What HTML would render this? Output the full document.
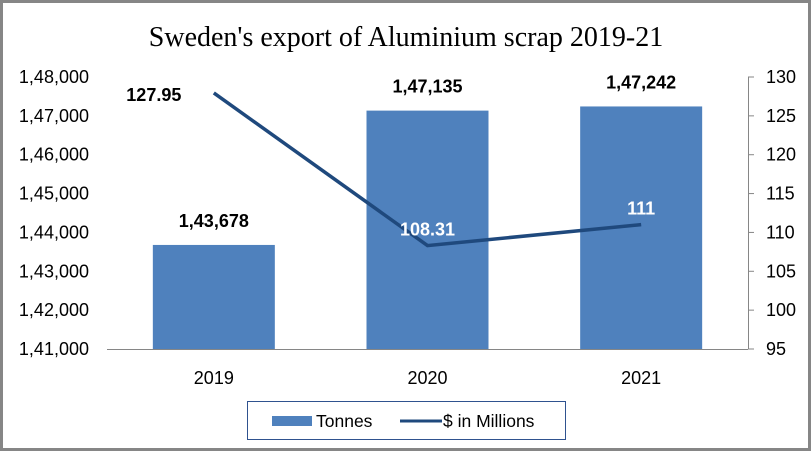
<!DOCTYPE html>
<html><head><meta charset="utf-8"><style>
html,body{margin:0;padding:0;background:#fff}
svg{display:block;font-family:"Liberation Sans",sans-serif}
</style></head><body>
<svg id="chart" width="812" height="453" viewBox="0 0 812 453">
<rect x="1.5" y="1.5" width="808" height="448" fill="#fff" stroke="#868686" stroke-width="3"/>
<text x="406" y="46" text-anchor="middle" font-family="Liberation Serif, serif" font-size="28" fill="#000">Sweden's export of Aluminium scrap 2019-21</text>
<g id="plot"></g>
<g>
<rect x="247.5" y="401.5" width="318" height="38" fill="#fff" stroke="#2f528f" stroke-width="1"/>
<rect x="272" y="416" width="40" height="10" fill="#4f81bd"/>
<text x="316" y="427" font-size="17.5" fill="#000">Tonnes</text>
<line x1="400" y1="421" x2="442" y2="421" stroke="#1f497d" stroke-width="3"/>
<text x="443" y="427" font-size="17.5" fill="#000">$ in Millions</text>
</g>
</svg>
<script>
const categories = ["2019","2020","2021"];
const tonnes = [143678, 147135, 147242];
const tonnesLabels = ["1,43,678","1,47,135","1,47,242"];
const millions = [127.95, 108.31, 111];
const millionsLabels = ["127.95","108.31","111"];
const leftTicks = [141000,142000,143000,144000,145000,146000,147000,148000];
const leftTickLabels = ["1,41,000","1,42,000","1,43,000","1,44,000","1,45,000","1,46,000","1,47,000","1,48,000"];
const rightTicks = [95,100,105,110,115,120,125,130];

const NS="http://www.w3.org/2000/svg";
const g=document.getElementById('plot');
const X0=107,X1=748,Y0=349,Y1=77;
const band=(X1-X0)/categories.length;
const xc=i=>X0+band*(i+0.5);
const yL=v=>Y0-(v-141000)/(148000-141000)*(Y0-Y1);
const yR=v=>Y0-(v-95)/(130-95)*(Y0-Y1);
function mk(tag,attrs,txt){const e=document.createElementNS(NS,tag);for(const k in attrs)e.setAttribute(k,attrs[k]);if(txt!=null)e.textContent=txt;g.appendChild(e);return e;}

leftTicks.forEach((t,i)=>{
  const e=mk('text',{x:89,y:yL(t)+6,'text-anchor':'end','font-size':18,fill:'#000'},leftTickLabels[i]);
  
  
});
mk('line',{x1:X1+0.5,y1:Y1,x2:X1+0.5,y2:Y0,stroke:'#868686'});
rightTicks.forEach(t=>{
  const tk=mk('line',{x1:X1,y1:yR(t),x2:X1+6,y2:yR(t),stroke:'#868686'});
  
  
  const e=mk('text',{x:766,y:yR(t)+6,'font-size':18,fill:'#000'},String(t));
  
  
});
categories.forEach((c,i)=>{
  const bw=122;
  const b=mk('rect',{x:xc(i)-bw/2,y:yL(tonnes[i]),width:bw,height:Y0-yL(tonnes[i]),fill:'#4f81bd'});
  
  
  const l=mk('text',{x:xc(i),y:yL(tonnes[i])-18,'text-anchor':'middle','font-size':18,'font-weight':'bold',fill:'#000'},tonnesLabels[i]);
  
  
  const cl=mk('text',{x:xc(i),y:384,'text-anchor':'middle','font-size':18,fill:'#000'},c);
  
  
});
mk('line',{x1:X0,y1:Y0+0.5,x2:X1,y2:Y0+0.5,stroke:'#868686'});
const pts=millions.map((v,i)=>xc(i)+','+yR(v)).join(' ');
const pl=mk('polyline',{points:pts,fill:'none',stroke:'#1f497d','stroke-width':3.5});


const offs=[[-60,8],[0,-10],[0,-10]];
millions.forEach((v,i)=>{
  const onBar = yR(v) > yL(tonnes[i]);
  const t=mk('text',{x:xc(i)+offs[i][0],y:yR(v)+offs[i][1],'text-anchor':'middle','font-size':18,'font-weight':'bold',fill:onBar?'#fff':'#000'},millionsLabels[i]);
  
  
});
</script>
</body></html>
